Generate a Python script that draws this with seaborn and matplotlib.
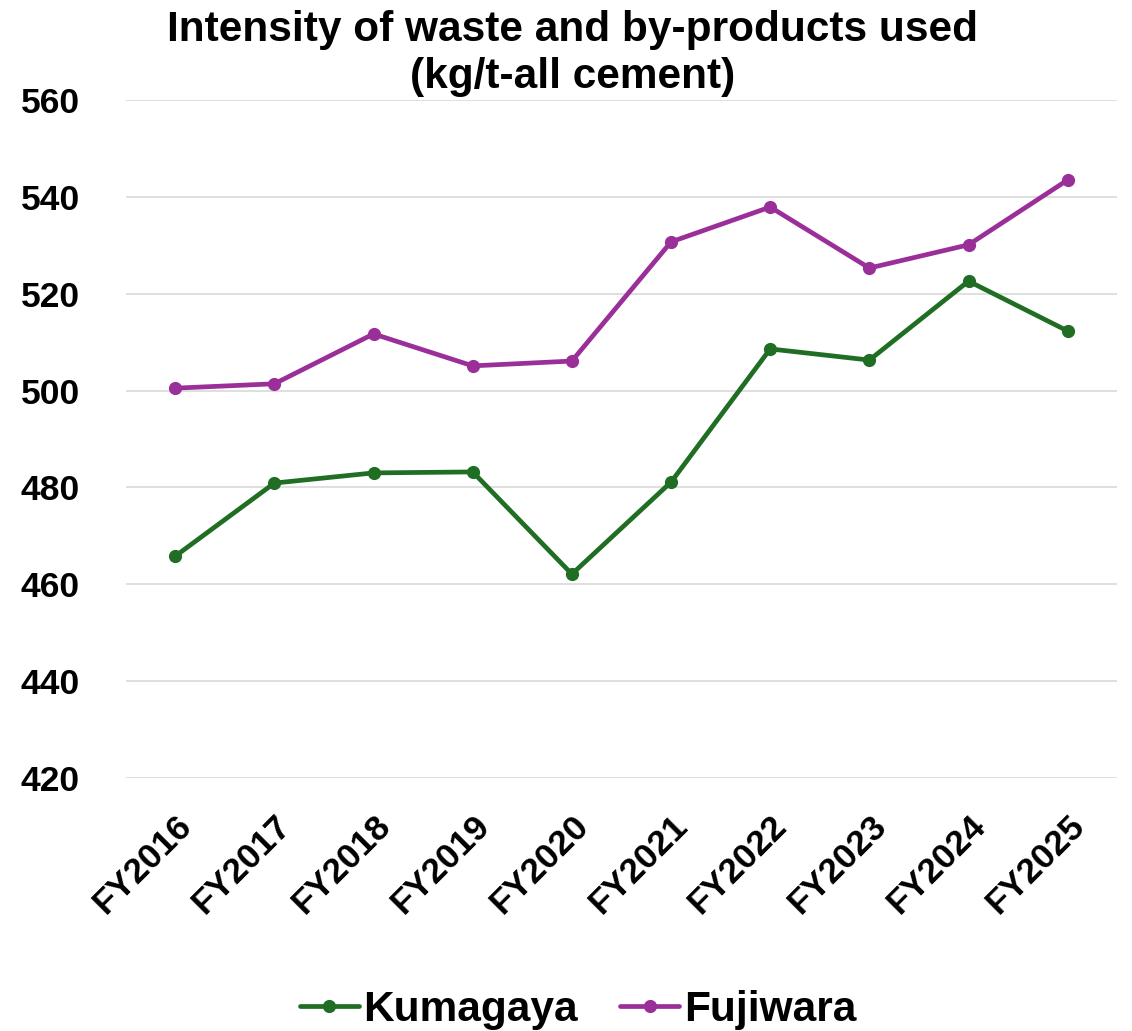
import pandas as pd
import matplotlib.pyplot as plt
import seaborn as sns

years = ['FY2016', 'FY2017', 'FY2018', 'FY2019', 'FY2020',
         'FY2021', 'FY2022', 'FY2023', 'FY2024', 'FY2025']
kumagaya = [465.8, 480.9, 483.0, 483.2, 462.1, 481.1, 508.6, 506.3, 522.6, 512.3]
fujiwara = [500.5, 501.4, 511.7, 505.1, 506.1, 530.7, 537.9, 525.3, 530.1, 543.5]
series_names = ['Kumagaya', 'Fujiwara']
colors = ['#1f6e23', '#9b2f99']

df = pd.DataFrame({
    'year': years * 2,
    'value': kumagaya + fujiwara,
    'site': [series_names[0]] * len(years) + [series_names[1]] * len(years),
})

sns.set_style('white')
plt.rcParams['font.family'] = ['Liberation Sans', 'DejaVu Sans']
plt.rcParams['font.weight'] = 'bold'
plt.rcParams['text.color'] = 'black'
plt.rcParams['xtick.color'] = 'black'
plt.rcParams['ytick.color'] = 'black'

fig = plt.figure(figsize=(11.32, 10.31), dpi=100)
ax = fig.add_axes([0.111, 0.2454, 0.876, 0.6576])

sns.lineplot(data=df, x='year', y='value', hue='site', palette=colors,
             marker='o', markersize=9.5, markeredgewidth=0, linewidth=3.4,
             sort=False, ax=ax)

ax.set_ylim(420, 560)
ax.set_yticks(range(420, 561, 20))
ax.set_xlim(-0.5, len(years) - 0.5)
ax.grid(axis='y', color='#d9d9d9', linewidth=1.2)
ax.set_axisbelow(True)
for s in ax.spines.values():
    s.set_visible(False)
ax.tick_params(axis='both', length=0, labelsize=25.5)
ax.tick_params(axis='y', pad=33)
ax.tick_params(axis='x', pad=22)
plt.setp(ax.get_xticklabels(), rotation=45, ha='right', rotation_mode='anchor')
ax.set_xlabel('')
ax.set_ylabel('')

fig.suptitle('Intensity of waste and by-products used\n(kg/t-all cement)',
             x=0.506, y=0.99, fontsize=30.5, fontweight='bold', linespacing=1.22)

ax.legend(loc='lower center', bbox_to_anchor=(0.456, -0.428), ncol=2, frameon=False,
          fontsize=30.5, handlelength=1.4, columnspacing=1.0, handletextpad=0.1)

fig.savefig('out.png', dpi=100)
